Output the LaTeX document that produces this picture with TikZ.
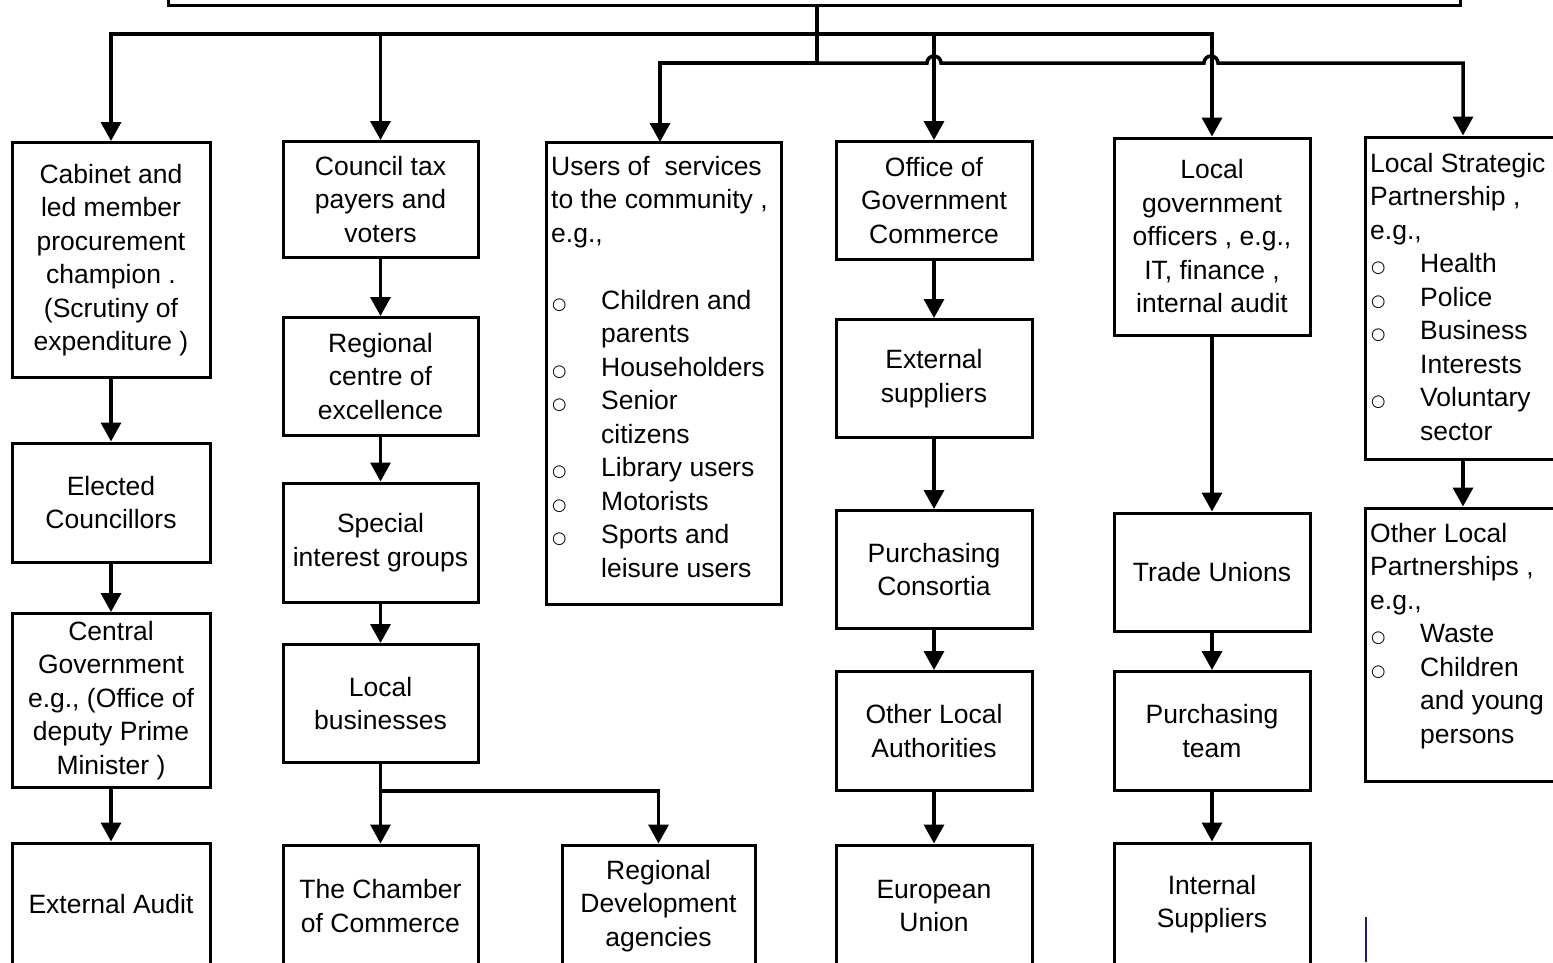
\documentclass[tikz,border=0pt]{standalone}
\usepackage{fontspec}
\setmainfont{Liberation Sans}
\newfontfamily\symfont{DejaVu Sans}
\usetikzlibrary{arrows.meta}
\newcommand\bul{{\symfont\fontsize{16.5}{16.5}\selectfont ○}}
\newcommand\itm{\makebox[50pt][l]{\hspace{1pt}\bul}}
\newcommand\ind{\hspace*{50pt}}
\begin{document}
\begin{tikzpicture}[x=1pt,y=-1pt,
  box/.style={draw, line width=3pt, align=center, inner sep=0pt,
    font=\fontsize{26.5}{33.5}\selectfont},
  listtext/.style={align=left, inner sep=0pt, anchor=north west,
    font=\fontsize{26.5}{33.5}\selectfont},
  conn/.style={line width=3.5pt},
  arr/.style={line width=3.5pt, -{Triangle[width=20pt,length=19pt]}}]
\useasboundingbox (0,0) rectangle (1553,962);
\clip (0,0) rectangle (1553,962);
% top box
\node[box, minimum width=1292pt, minimum height=120pt] (top) at (814,-55) {};
% column 1
\node[box, minimum width=198pt, minimum height=235pt] (cab) at (111,260) {Cabinet and\\led member\\procurement\\champion .\\(Scrutiny of\\expenditure )};
\node[box, minimum width=198pt, minimum height=119pt] (elec) at (111,502.5) {Elected\\Councillors};
\node[box, minimum width=198pt, minimum height=174pt] (cgov) at (111,700.5) {Central\\Government\\e.g., (Office of\\deputy Prime\\Minister )};
\node[box, minimum width=198pt, minimum height=122pt] (extaud) at (111,904) {External Audit};
% column 2
\node[box, minimum width=195pt, minimum height=116pt] (ctax) at (380.5,199.5) {Council tax\\payers and\\voters};
\node[box, minimum width=195pt, minimum height=118pt] (rce) at (380.5,376.5) {Regional\\centre of\\excellence};
\node[box, minimum width=195pt, minimum height=119pt] (sig) at (380.5,542.5) {Special\\interest groups};
\node[box, minimum width=195pt, minimum height=118pt] (lbus) at (380.5,703.5) {Local\\businesses};
\node[box, minimum width=195pt, minimum height=122pt] (coc) at (380.5,906) {The Chamber\\of Commerce};
\node[box, minimum width=193pt, minimum height=122pt] (rda) at (658.5,906) {Regional\\Development\\agencies};
% column 3
\node[box, minimum width=235pt, minimum height=462pt] (users) at (663.5,373) {};
\node[listtext] (userstxt) at (551,151.5) {\strut Users of\ \ services\\to the community ,\\e.g.,\\\mbox{}\\
\itm Children and\\\ind parents\\\itm Householders\\\itm Senior\\\ind citizens\\\itm Library users\\\itm Motorists\\\itm Sports and\\\ind leisure users};
% column 4
\node[box, minimum width=196pt, minimum height=118pt] (ogc) at (934,200.5) {Office of\\Government\\Commerce};
\node[box, minimum width=196pt, minimum height=118pt] (exts) at (934,378.5) {External\\suppliers};
\node[box, minimum width=196pt, minimum height=118pt] (pcon) at (934,569.5) {Purchasing\\Consortia};
\node[box, minimum width=196pt, minimum height=119pt] (ola) at (934,731) {Other Local\\Authorities};
\node[box, minimum width=196pt, minimum height=122pt] (eu) at (934,906) {European\\Union};
% column 5
\node[box, minimum width=196pt, minimum height=197pt] (lgo) at (1212,236.5) {Local\\government\\officers , e.g.,\\IT, finance ,\\internal audit};
\node[box, minimum width=196pt, minimum height=118pt] (tu) at (1212,572) {Trade Unions};
\node[box, minimum width=196pt, minimum height=119pt] (pt) at (1212,731) {Purchasing\\team};
\node[box, minimum width=196pt, minimum height=122pt] (is) at (1212,904) {Internal\\Suppliers};
% column 6
\node[box, minimum width=196pt, minimum height=322pt] (lsp) at (1463,298) {};
\node[listtext] (lsptxt) at (1370,148.5) {\strut Local Strategic\\Partnership ,\\e.g.,\\\itm Health\\\itm Police\\\itm Business\\\ind Interests\\\itm Voluntary\\\ind sector};
\node[box, minimum width=196pt, minimum height=273pt] (olp) at (1463,644.5) {};
\node[listtext] (olptxt) at (1370,518.5) {\strut Other Local\\Partnerships ,\\e.g.,\\\itm Waste\\\itm Children\\\ind and young\\\ind persons};
% connectors from top
\coordinate (hU) at (817,34);
\coordinate (hL) at (817,63);
\draw[conn] (top.south -| hU) -- (hL);
\draw[arr] (hU) -| (cab.north);
\draw[arr] (hU) -| (ctax.north);
\draw[arr] (hU) -| (ogc.north);
\draw[arr] (hU) -| (lgo.north);
\coordinate (uin) at (660,142);
\draw[arr] (hL) -| (uin);
\draw[arr] (hL) -- (927,63) arc[start angle=180,end angle=0,radius=7pt]
  -- (1204,63) arc[start angle=180,end angle=0,radius=7pt]
  -- (lsp.north |- hL) -- (lsp.north);
% column chains
\draw[arr] (cab) -- (elec);
\draw[arr] (elec) -- (cgov);
\draw[arr] (cgov) -- (extaud);
\draw[arr] (ctax) -- (rce);
\draw[arr] (rce) -- (sig);
\draw[arr] (sig) -- (lbus);
\draw[arr] (lbus) -- (coc);
\coordinate (br) at (380.5,791);
\draw[arr] (br) -| (rda.north);
\draw[arr] (ogc) -- (exts);
\draw[arr] (exts) -- (pcon);
\draw[arr] (pcon) -- (ola);
\draw[arr] (ola) -- (eu);
\draw[arr] (lgo) -- (tu);
\draw[arr] (tu) -- (pt);
\draw[arr] (pt) -- (is);
\draw[arr] (lsp) -- (olp);
% stray cursor mark
\coordinate (cur1) at (1366,917);
\coordinate (cur2) at (1366,962);
\draw[line width=2pt, color={rgb,255:red,30;green,30;blue,110}] (cur1) -- (cur2);
\end{tikzpicture}
\end{document}
